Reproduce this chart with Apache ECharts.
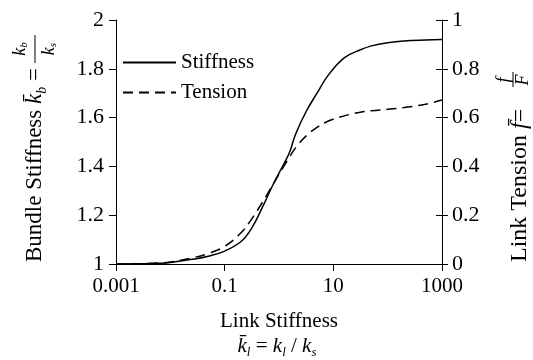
<!DOCTYPE html>
<html>
<head>
<meta charset="utf-8">
<script src="https://cdn.jsdelivr.net/npm/echarts@6/dist/echarts.min.js"></script>
<style>
html, body { margin: 0; padding: 0; background: #fff; }
#chart { width: 533px; height: 360px; }
</style>
</head>
<body>
<div id="chart"></div>
<script>
// link stiffness k_l (x, log scale)
var linkStiffness = [0.001, 0.00316, 0.00631, 0.01, 0.0251, 0.0501, 0.1, 0.2, 0.316, 0.501, 0.794,
    1.26, 1.58, 2, 3.16, 5.01, 7.94, 15.8, 31.6, 50.1, 100, 200, 501, 1000];
// bundle stiffness (left axis)
var bundleStiffness = [1.000, 1.001, 1.003, 1.006, 1.019, 1.032, 1.053, 1.092, 1.148, 1.235, 1.33,
    1.415, 1.46, 1.53, 1.625, 1.70, 1.772, 1.845, 1.878, 1.894, 1.907, 1.914, 1.918, 1.92];
// link tension (right axis)
var linkTension = [0, 0.001, 0.004, 0.008, 0.025, 0.043, 0.072, 0.128, 0.185, 0.255, 0.33,
    0.405, 0.44, 0.475, 0.525, 0.56, 0.585, 0.607, 0.622, 0.628, 0.634, 0.641, 0.655, 0.672];
var seriesNames = ['Stiffness', 'Tension'];

var serif = 'Liberation Serif';
var ink = '#000';

var rich = {
    t: { fontFamily: serif, fontSize: 23, color: ink, lineHeight: 28 },
    k: { fontFamily: serif, fontStyle: 'italic', fontSize: 23, color: ink, lineHeight: 28 },
    s: { fontFamily: serif, fontStyle: 'italic', fontSize: 14, color: ink, lineHeight: 10, verticalAlign: 'bottom' },
    rt: { fontFamily: serif, fontSize: 24, color: ink, lineHeight: 28 },
    rk: { fontFamily: serif, fontStyle: 'italic', fontSize: 24, color: ink, lineHeight: 28 },
    f: { fontFamily: serif, fontStyle: 'italic', fontSize: 18, color: ink, lineHeight: 20 },
    fs: { fontFamily: serif, fontStyle: 'italic', fontSize: 11, color: ink, lineHeight: 8, verticalAlign: 'bottom' },
    xt: { fontFamily: serif, fontSize: 21, color: ink, lineHeight: 26 },
    xk: { fontFamily: serif, fontStyle: 'italic', fontSize: 21, color: ink, lineHeight: 26 },
    xs: { fontFamily: serif, fontStyle: 'italic', fontSize: 13, color: ink, lineHeight: 10, verticalAlign: 'bottom' }
};

function toPoints(vals) {
    return linkStiffness.map(function (k, i) { return [Math.log10(k), vals[i]]; });
}

var chart = echarts.init(document.getElementById('chart'));

var option = {
    animation: false,
    backgroundColor: '#fff',
    grid: { left: 116, right: 91, top: 20, bottom: 96 },
    legend: {
        data: seriesNames,
        orient: 'vertical',
        left: 117,
        top: 47,
        itemWidth: 53,
        itemHeight: 12,
        itemGap: 9,
        itemStyle: { opacity: 0 },
        textStyle: { fontFamily: serif, fontSize: 21, color: ink }
    },
    xAxis: {
        type: 'value',
        min: -3,
        max: 3,
        interval: 2,
        axisLine: { show: true, onZero: false, lineStyle: { color: ink, width: 1 } },
        axisTick: { show: true, inside: false, length: 7, lineStyle: { color: ink } },
        axisLabel: {
            margin: 12,
            fontFamily: serif, fontSize: 21, color: ink,
            formatter: function (v) { return String(Number(Math.pow(10, v).toPrecision(6))); }
        },
        splitLine: { show: false }
    },
    yAxis: [
        {
            type: 'value', position: 'left', min: 1, max: 2, interval: 0.2,
            axisLine: { show: true, onZero: false, lineStyle: { color: ink, width: 1 } },
            axisTick: { show: true, inside: false, length: 7, lineStyle: { color: ink } },
            axisLabel: { margin: 12, fontFamily: serif, fontSize: 22, color: ink },
            splitLine: { show: false }
        },
        {
            type: 'value', position: 'right', min: 0, max: 1, interval: 0.2,
            axisLine: { show: true, onZero: false, lineStyle: { color: ink, width: 1 } },
            axisTick: { show: true, inside: false, length: 6, lineStyle: { color: ink } },
            axisLabel: { margin: 10, fontFamily: serif, fontSize: 22, color: ink },
            splitLine: { show: false }
        },
        {
            // inner half of the crossing ticks on the right axis
            type: 'value', position: 'right', min: 0, max: 1, interval: 0.2,
            axisLine: { show: false, onZero: false },
            axisTick: { show: true, inside: true, length: 6, lineStyle: { color: ink } },
            axisLabel: { show: false },
            splitLine: { show: false }
        }
    ],
    series: [
        {
            name: seriesNames[0], type: 'line', yAxisIndex: 0,
            data: toPoints(bundleStiffness),
            showSymbol: false, symbol: 'none',
            smooth: 0.4,
            lineStyle: { color: ink, width: 1.5, type: 'solid' },
            itemStyle: { color: ink }
        },
        {
            name: seriesNames[1], type: 'line', yAxisIndex: 1,
            data: toPoints(linkTension),
            showSymbol: false, symbol: 'none',
            smooth: 0.4,
            lineStyle: { color: ink, width: 1.5, type: [10, 6] },
            itemStyle: { color: ink }
        }
    ],
    graphic: [
        {
            // left axis name, read bottom to top
            type: 'group', x: 35, y: 262, rotation: Math.PI / 2,
            children: [
                { type: 'text', x: 0, y: 0,
                  style: { text: '{t|Bundle Stiffness }{k|k\u0304}{s|b}{t| = }', rich: rich, align: 'left', verticalAlign: 'middle' } },
                { type: 'text', x: 213, y: -15,
                  style: { text: '{f|k}{fs|b}', rich: rich, align: 'center', verticalAlign: 'middle' } },
                { type: 'line', shape: { x1: 199, y1: 0, x2: 227, y2: 0 }, style: { stroke: ink, lineWidth: 1 } },
                { type: 'text', x: 213, y: 14,
                  style: { text: '{f|k}{fs|s}', rich: rich, align: 'center', verticalAlign: 'middle' } }
            ]
        },
        {
            // right axis name
            type: 'group', x: 520, y: 262, rotation: Math.PI / 2,
            children: [
                { type: 'text', x: 0, y: 0,
                  style: { text: '{rt|Link Tension }{rk|f\u0304}{rt|=}', rich: rich, align: 'left', verticalAlign: 'middle' } },
                { type: 'text', x: 182, y: -16,
                  style: { text: '{f|f}', rich: rich, align: 'center', verticalAlign: 'middle' } },
                { type: 'line', shape: { x1: 175, y1: -7, x2: 190, y2: -7 }, style: { stroke: ink, lineWidth: 1 } },
                { type: 'text', x: 182, y: 3,
                  style: { text: '{f|F}', rich: rich, align: 'center', verticalAlign: 'middle' } }
            ]
        },
        {
            type: 'text', x: 279, y: 321,
            style: { text: 'Link Stiffness', fontFamily: serif, fontSize: 21, fill: ink, align: 'center', verticalAlign: 'middle' }
        },
        {
            type: 'text', x: 277, y: 346,
            style: { text: '{xk|k\u0304}{xs|l}{xt| = }{xk|k}{xs|l}{xt| / }{xk|k}{xs|s}', rich: rich, align: 'center', verticalAlign: 'middle' }
        }
    ]
};

chart.setOption(option);
</script>
</body>
</html>
